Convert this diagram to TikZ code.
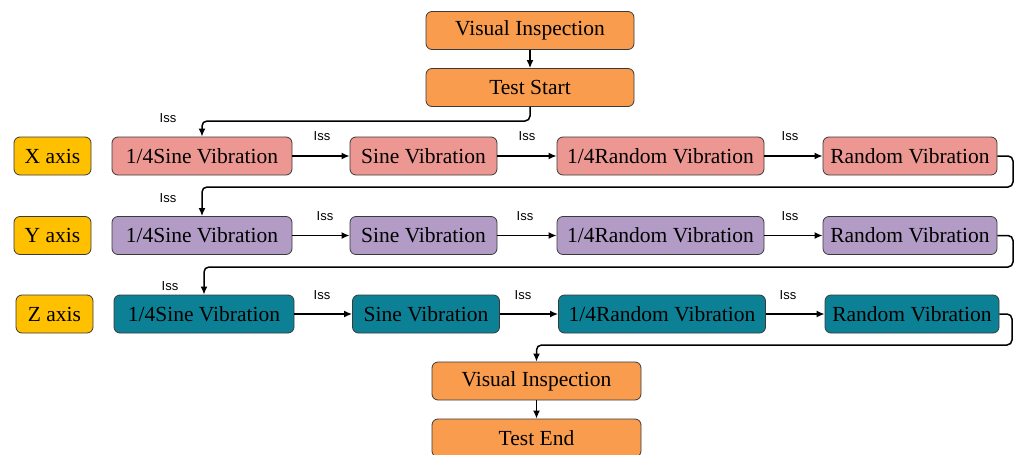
\documentclass[tikz,border=0pt]{standalone}
\usepackage{fontspec}
\setmainfont{Liberation Serif}
\newfontfamily\lblfont{Liberation Sans}
\usetikzlibrary{arrows.meta,calc}
\definecolor{orangeA}{HTML}{F99C4E}
\definecolor{pinkA}{HTML}{EC9791}
\definecolor{purpA}{HTML}{B29CC6}
\definecolor{tealA}{HTML}{0C8196}
\definecolor{yellA}{HTML}{FFC000}
\definecolor{edgeA}{HTML}{3A3A3A}
\tikzset{
  box/.style={draw=edgeA, line width=0.8pt, rounded corners=6pt, inner sep=0pt,
    minimum height=38pt, font=\fontsize{21.5}{24}\selectfont, text=black},
  orbox/.style={box, fill=orangeA, minimum width=208pt},
  axbox/.style={box, fill=yellA, minimum width=77pt},
  xbox/.style={box, fill=pinkA},
  ybox/.style={box, fill=purpA},
  zbox/.style={box, fill=tealA},
  wA/.style={minimum width=180pt},
  wB/.style={minimum width=147pt},
  wC/.style={minimum width=207pt},
  wD/.style={minimum width=174pt},
  arr/.style={draw=black, line width=1.5pt, rounded corners=5pt, -{Latex[length=8pt,width=7pt]}},
  lbl/.style={font=\lblfont\fontsize{13}{14}\selectfont, inner sep=0pt}
}
\begin{document}
\begin{tikzpicture}[x=1pt,y=-1pt]
\useasboundingbox (0,0) rectangle (1015,455);
% top
\node[orbox] (vi1) at (530,30.5) {Visual Inspection};
\node[orbox] (ts) at (530,87.5) {Test Start};
% X row
\node[axbox] (xa) at (52.5,156) {X axis};
\node[xbox,wA] (x1) at (202,156) {1/4Sine Vibration};
\node[xbox,wB] (x2) at (423.5,156) {Sine Vibration};
\node[xbox,wC] (x3) at (660.5,156) {1/4Random Vibration};
\node[xbox,wD] (x4) at (910,156) {Random Vibration};
% Y row
\node[axbox] (ya) at (52.5,235.5) {Y axis};
\node[ybox,wA] (y1) at (202,235.5) {1/4Sine Vibration};
\node[ybox,wB] (y2) at (423.5,235.5) {Sine Vibration};
\node[ybox,wC] (y3) at (660.5,235.5) {1/4Random Vibration};
\node[ybox,wD] (y4) at (910,235.5) {Random Vibration};
% Z row
\node[axbox] (za) at (54.5,314) {Z axis};
\node[zbox,wA] (z1) at (204,314) {1/4Sine Vibration};
\node[zbox,wB] (z2) at (426,314) {Sine Vibration};
\node[zbox,wC] (z3) at (662,314) {1/4Random Vibration};
\node[zbox,wD] (z4) at (912,314) {Random Vibration};
% bottom
\node[orbox,minimum width=209pt] (vi2) at (536.5,381) {Visual Inspection};
\node[orbox,minimum width=209pt] (te) at (536.5,438) {Test End};
% connectors
\draw[arr] (vi1) -- (ts);
\draw[arr] (ts.south) |- (x1.north |- 0,121) -- (x1.north);
\draw[arr] (x1) -- (x2);
\draw[arr] (x2) -- (x3);
\draw[arr] (x3) -- (x4);
\draw[arr] (x4.east) -| (1013,187) -| (y1.north);
\draw[arr] (y1) -- (y2);
\draw[arr] (y2) -- (y3);
\draw[arr] (y3) -- (y4);
\draw[arr] (y4.east) -| (1013,267) -| (z1.north);
\draw[arr] (z1) -- (z2);
\draw[arr] (z2) -- (z3);
\draw[arr] (z3) -- (z4);
\draw[arr] (z4.east) -| (1012,345) -| (vi2.north);
\draw[arr] (vi2) -- (te);
% labels
\node[lbl] (l0) at (168,118) {Iss};
\node[lbl] (lx1) at (322,136) {Iss};
\node[lbl] (lx2) at (527,136) {Iss};
\node[lbl] (lx3) at (790,136) {Iss};
\node[lbl] (l1) at (168,198) {Iss};
\node[lbl] (ly1) at (325,216) {Iss};
\node[lbl] (ly2) at (525,216) {Iss};
\node[lbl] (ly3) at (790,216) {Iss};
\node[lbl] (l2) at (170,286) {Iss};
\node[lbl] (lz1) at (322,295) {Iss};
\node[lbl] (lz2) at (523,295) {Iss};
\node[lbl] (lz3) at (788,295) {Iss};
\end{tikzpicture}
\end{document}
